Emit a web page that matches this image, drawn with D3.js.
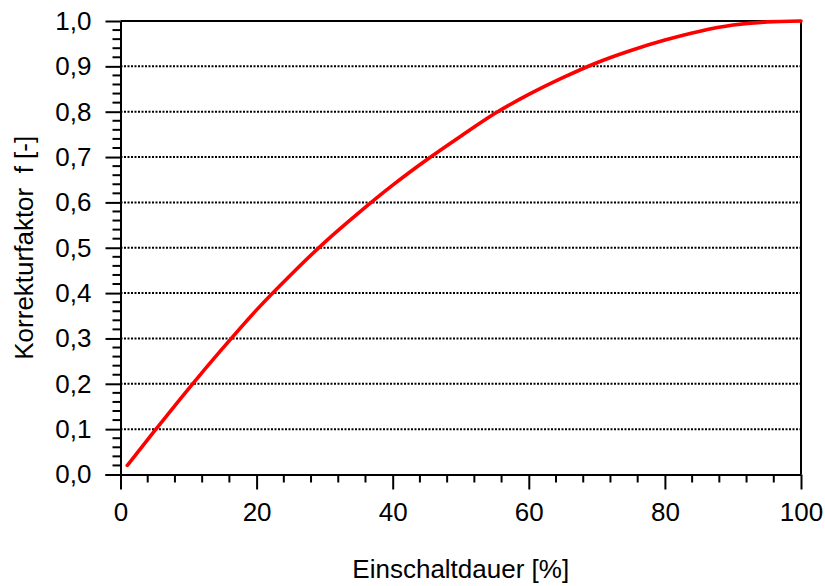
<!DOCTYPE html>
<html><head><meta charset="utf-8">
<script src="https://cdn.jsdelivr.net/npm/d3@7"></script>
<style>
body{margin:0;background:#fff;}
text{font-family:"Liberation Sans",Arial,sans-serif;fill:#000;}
</style></head>
<body>
<svg id="chart" width="825" height="586"></svg>
<script>
const einschaltdauer = [1,5,10,15,20,25,30,35,40,45,50,55,60,65,70,75,80,85,90,95,100];
const korrekturfaktor = [0.02,0.096,0.189,0.278,0.363,0.44,0.512,0.577,0.638,0.694,0.746,0.796,0.838,0.875,0.908,0.935,0.958,0.977,0.991,0.998,1.0];
const xTickValues = [0,20,40,60,80,100];
const yTickValues = [0,0.1,0.2,0.3,0.4,0.5,0.6,0.7,0.8,0.9,1.0];
const xTitle = "Einschaltdauer [%]";
const yTitle = "Korrekturfaktor  f [-]";

const svg = d3.select("#chart");
const L = 120.5, R = 801, T = 21, B = 474.5;
const FS = 26;
const x = d3.scaleLinear().domain([0,100]).range([L,R]);
const y = d3.scaleLinear().domain([0,1]).range([B,T]);
const fmt = d => d3.format(".1f")(d).replace(".", ",");

// gridlines
svg.append("g").selectAll("line").data(yTickValues.filter(v => v>0 && v<1)).join("line")
  .attr("x1", L).attr("x2", R).attr("y1", d=>y(d)).attr("y2", d=>y(d))
  .attr("stroke","#000").attr("stroke-width",2).attr("stroke-dasharray","2,1.5");

// frame top/right
svg.append("line").attr("x1",L).attr("x2",R).attr("y1",T).attr("y2",T).attr("stroke","#000").attr("stroke-width",2);
svg.append("line").attr("x1",R).attr("x2",R).attr("y1",T).attr("y2",B).attr("stroke","#000").attr("stroke-width",2);

// x axis
const xMinor = d3.range(0,101,4).filter(v => v%20 !== 0);
const xAxis = svg.append("g").attr("transform",`translate(0,${B})`)
  .call(d3.axisBottom(x).tickValues(xTickValues).tickSize(15).tickSizeOuter(0).tickPadding(13).tickFormat(d3.format("d")));
xAxis.select(".domain").attr("stroke-width",2).attr("d", `M${L-15},0.5H${R}`);
xAxis.selectAll(".tick line").attr("stroke-width",2);
xAxis.selectAll("text").attr("font-size",FS).attr("font-family","Liberation Sans, Arial, sans-serif");
xAxis.append("g").selectAll("line").data(xMinor).join("line")
  .attr("x1",d=>x(d)).attr("x2",d=>x(d)).attr("y1",0).attr("y2",8).attr("stroke","#000").attr("stroke-width",2);

// y axis
const yMinor = d3.range(0,51,1).map(v=>v/50).filter((v,i)=> i%5 !== 0);
const yAxis = svg.append("g").attr("transform",`translate(${L},0)`)
  .call(d3.axisLeft(y).tickValues(yTickValues).tickSize(15).tickSizeOuter(0).tickPadding(14).tickFormat(fmt));
yAxis.select(".domain").attr("stroke-width",2);
yAxis.selectAll(".tick line").attr("stroke-width",2);
yAxis.selectAll("text").attr("font-size",FS).attr("font-family","Liberation Sans, Arial, sans-serif");
yAxis.append("g").selectAll("line").data(yMinor).join("line")
  .attr("y1",d=>y(d)).attr("y2",d=>y(d)).attr("x1",0).attr("x2",-8).attr("stroke","#000").attr("stroke-width",2);

// curve
const pts = einschaltdauer.map((v,i)=>[v,korrekturfaktor[i]]);
svg.append("path").datum(pts)
  .attr("d", d3.line().x(d=>x(d[0])).y(d=>y(d[1])).curve(d3.curveMonotoneX))
  .attr("fill","none").attr("stroke","#ff0000").attr("stroke-width",3.6).attr("stroke-linecap","round");

// titles
svg.append("text").attr("x",(L+R)/2).attr("y",578).attr("text-anchor","middle").attr("font-size",FS).text(xTitle);
svg.append("text").attr("transform",`translate(33,${(T+B)/2}) rotate(-90)`).attr("text-anchor","middle")
  .attr("font-size",FS).style("white-space","pre").text(yTitle);
</script>
</body></html>
